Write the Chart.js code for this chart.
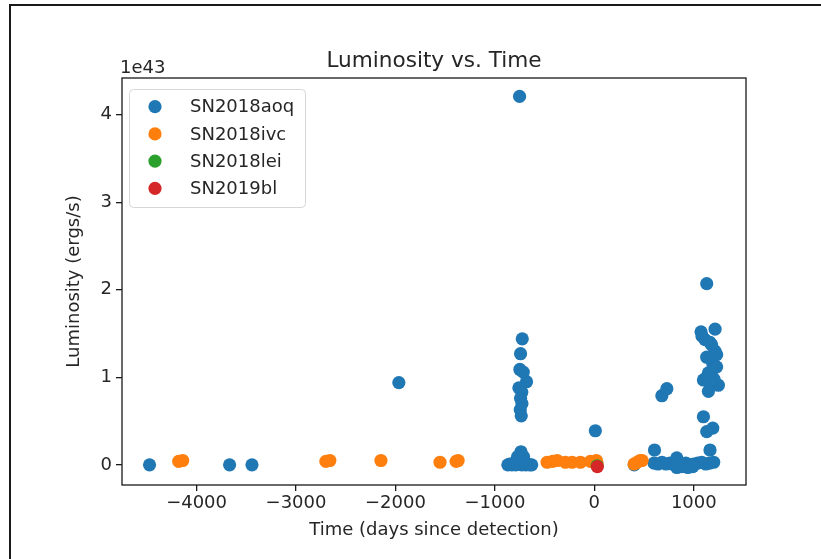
<!DOCTYPE html>
<html>
<head>
<meta charset="utf-8">
<script src="https://cdn.jsdelivr.net/npm/chart.js@4/dist/chart.umd.min.js"></script>
<style>
  html, body { margin: 0; padding: 0; background: #fff; }
  #wrap { position: relative; width: 821px; height: 559px; }
</style>
</head>
<body>
<div id="wrap"><canvas id="lumChart" width="821" height="559"></canvas></div>
<script>
// luminosity in units of 1e43 ergs/s, time in days since detection
const aoqTime = [-4473, -3668, -3443, -1966, -752,
  -725, -742, -749, -715, -682, -759, -730, -742, -728, -745, -735,
  -738, -712, -772,
  -870, -850, -830, -810, -790, -770, -750, -730, -710, -690, -670, -650, -630,
  10, 401, 605, 679, 729, 829,
  600, 640, 680, 720, 760, 800, 840, 880, 920, 960, 1000, 1040, 1080, 1120, 1160, 1200,
  830, 880, 940, 990,
  1130, 1073, 1214, 1113, 1180, 1230, 1130, 1197, 1147, 1097, 1247, 1147,
  1083, 1163, 1213, 1190, 1230, 1130, 1203, 1163,
  1097, 1191, 1130, 1163];
const aoqLum = [0.0, 0.0, 0.0, 0.94, 4.21,
  1.44, 1.27, 1.09, 1.06, 0.95, 0.88, 0.83, 0.76, 0.70, 0.63, 0.56,
  0.15, 0.095, 0.095,
  0.0, 0.01, 0.0, 0.02, 0.0, 0.01, 0.03, 0.0, 0.02, 0.0, 0.01, 0.0, 0.0,
  0.39, 0.0, 0.17, 0.79, 0.87, 0.08,
  0.02, 0.01, 0.03, 0.01, 0.02, 0.0, 0.03, 0.01, 0.02, 0.0, 0.01, 0.02, 0.03, 0.01, 0.02, 0.03,
  -0.03, -0.02, -0.03, -0.02,
  2.07, 1.52, 1.55, 1.43, 1.37, 1.26, 1.23, 1.10, 1.05, 0.97, 0.91, 0.84,
  1.47, 1.40, 1.30, 1.16, 1.12, 1.00, 0.98, 0.93,
  0.55, 0.42, 0.38, 0.17];

const ivcTime = [-4180, -4140, -2700, -2660, -2146, -1552, -1390, -1370,
  -475, -420, -374, -291, -224, -140, -40, 20, 27, 400, 430, 460, 480];
const ivcLum = [0.04, 0.05, 0.04, 0.05, 0.05, 0.03, 0.04, 0.05,
  0.03, 0.04, 0.05, 0.03, 0.03, 0.03, 0.04, 0.05, 0.02, 0.01, 0.03, 0.05, 0.05];

const leiTime = [28];
const leiLum = [-0.01];

const blTime = [30];
const blLum = [-0.02];

const seriesNames = ['SN2018aoq', 'SN2018ivc', 'SN2018lei', 'SN2019bl'];
const seriesColors = ['#1f77b4', '#ff7f0e', '#2ca02c', '#d62728'];
const xTicks = [-4000, -3000, -2000, -1000, 0, 1000];
const yTicks = [0, 1, 2, 3, 4];

const FONT = "'DejaVu Sans', sans-serif";
const INK = '#262626';

function toPoints(xs, ys) {
    return xs.map((x, i) => ({ x: x, y: ys[i] }));
}

function fmtTick(v) {
    return v < 0 ? '\u2212' + Math.abs(v) : String(v);
}

const allSeries = [
    toPoints(aoqTime, aoqLum),
    toPoints(ivcTime, ivcLum),
    toPoints(leiTime, leiLum),
    toPoints(blTime, blLum)
];

// frame, title, offset text and legend drawn by hand to match the matplotlib look
const decorPlugin = {
    id: 'decor',
    beforeDraw(chart) {
        const ctx = chart.ctx;
        ctx.save();
        ctx.fillStyle = '#fff';
        ctx.fillRect(0, 0, chart.width, chart.height);
        ctx.restore();
    },
    afterDraw(chart) {
        const ctx = chart.ctx;
        const a = chart.chartArea;
        ctx.save();

        // notebook cell frame
        ctx.fillStyle = '#1a1a1a';
        ctx.fillRect(9, 4, chart.width - 9, 2);
        ctx.fillRect(9, 4, 2, chart.height - 4);

        // axes frame
        ctx.strokeStyle = '#1a1a1a';
        ctx.lineWidth = 1.3;
        ctx.strokeRect(a.left, a.top, a.right - a.left, a.bottom - a.top);

        // title
        ctx.fillStyle = INK;
        ctx.font = '21.6px ' + FONT;
        ctx.textAlign = 'center';
        ctx.textBaseline = 'middle';
        ctx.fillText('Luminosity vs. Time', (a.left + a.right) / 2, 61);

        // offset text
        ctx.font = '18px ' + FONT;
        ctx.textAlign = 'left';
        ctx.fillText('1e43', a.left - 2, 68);

        // legend
        const bx = 129.5, by = 89.5, bw = 176, bh = 118, r = 4;
        ctx.beginPath();
        ctx.moveTo(bx + r, by);
        ctx.arcTo(bx + bw, by, bx + bw, by + bh, r);
        ctx.arcTo(bx + bw, by + bh, bx, by + bh, r);
        ctx.arcTo(bx, by + bh, bx, by, r);
        ctx.arcTo(bx, by, bx + bw, by, r);
        ctx.closePath();
        ctx.fillStyle = 'rgba(255,255,255,0.8)';
        ctx.fill();
        ctx.strokeStyle = '#d6d6d6';
        ctx.lineWidth = 1;
        ctx.stroke();

        chart.data.datasets.forEach((ds, i) => {
            const y = 106.7 + i * 27.2;
            ctx.beginPath();
            ctx.arc(155, y, 6.6, 0, Math.PI * 2);
            ctx.fillStyle = ds.backgroundColor;
            ctx.fill();
            ctx.fillStyle = INK;
            ctx.font = '18px ' + FONT;
            ctx.textBaseline = 'middle';
            ctx.fillText(ds.label, 190, y + 1);
        });

        ctx.restore();
    }
};

const ctx = document.getElementById('lumChart').getContext('2d');

new Chart(ctx, {
    type: 'scatter',
    data: {
        datasets: allSeries.map((pts, i) => ({
            label: seriesNames[i],
            data: pts,
            backgroundColor: seriesColors[i],
            borderWidth: 0,
            pointRadius: 6.6,
            pointHoverRadius: 6.6,
            // later series drawn on top, like matplotlib
            order: allSeries.length - i
        }))
    },
    options: {
        responsive: false,
        devicePixelRatio: 1,
        animation: false,
        events: [],
        layout: { padding: { left: 0, top: 78, right: 75, bottom: 0 } },
        plugins: {
            legend: { display: false },
            title: { display: false },
            tooltip: { enabled: false }
        },
        scales: {
            x: {
                type: 'linear',
                min: -4750,
                max: 1525,
                afterFit: (s) => { s.height = 74; },
                afterBuildTicks: (s) => { s.ticks = xTicks.map(v => ({ value: v })); },
                ticks: {
                    callback: fmtTick,
                    color: INK,
                    font: { family: FONT, size: 18 },
                    padding: 2,
                    maxRotation: 0,
                    autoSkip: false
                },
                grid: { drawOnChartArea: false, drawTicks: true, tickLength: 6, color: '#1a1a1a', lineWidth: 1.3 },
                border: { display: false },
                title: {
                    display: true,
                    text: 'Time (days since detection)',
                    color: INK,
                    font: { family: FONT, size: 18 },
                    padding: { top: 0, bottom: 18 }
                }
            },
            y: {
                type: 'linear',
                min: -0.23,
                max: 4.42,
                afterFit: (s) => { s.width = 122; },
                afterBuildTicks: (s) => { s.ticks = yTicks.map(v => ({ value: v })); },
                ticks: {
                    callback: fmtTick,
                    color: INK,
                    font: { family: FONT, size: 18 },
                    padding: 4,
                    autoSkip: false
                },
                grid: { drawOnChartArea: false, drawTicks: true, tickLength: 6, color: '#1a1a1a', lineWidth: 1.3 },
                border: { display: false },
                title: {
                    display: true,
                    text: 'Luminosity (ergs/s)',
                    color: INK,
                    font: { family: FONT, size: 18 },
                    padding: { top: 64, bottom: 0 }
                }
            }
        }
    },
    plugins: [decorPlugin]
});
</script>
</body>
</html>
